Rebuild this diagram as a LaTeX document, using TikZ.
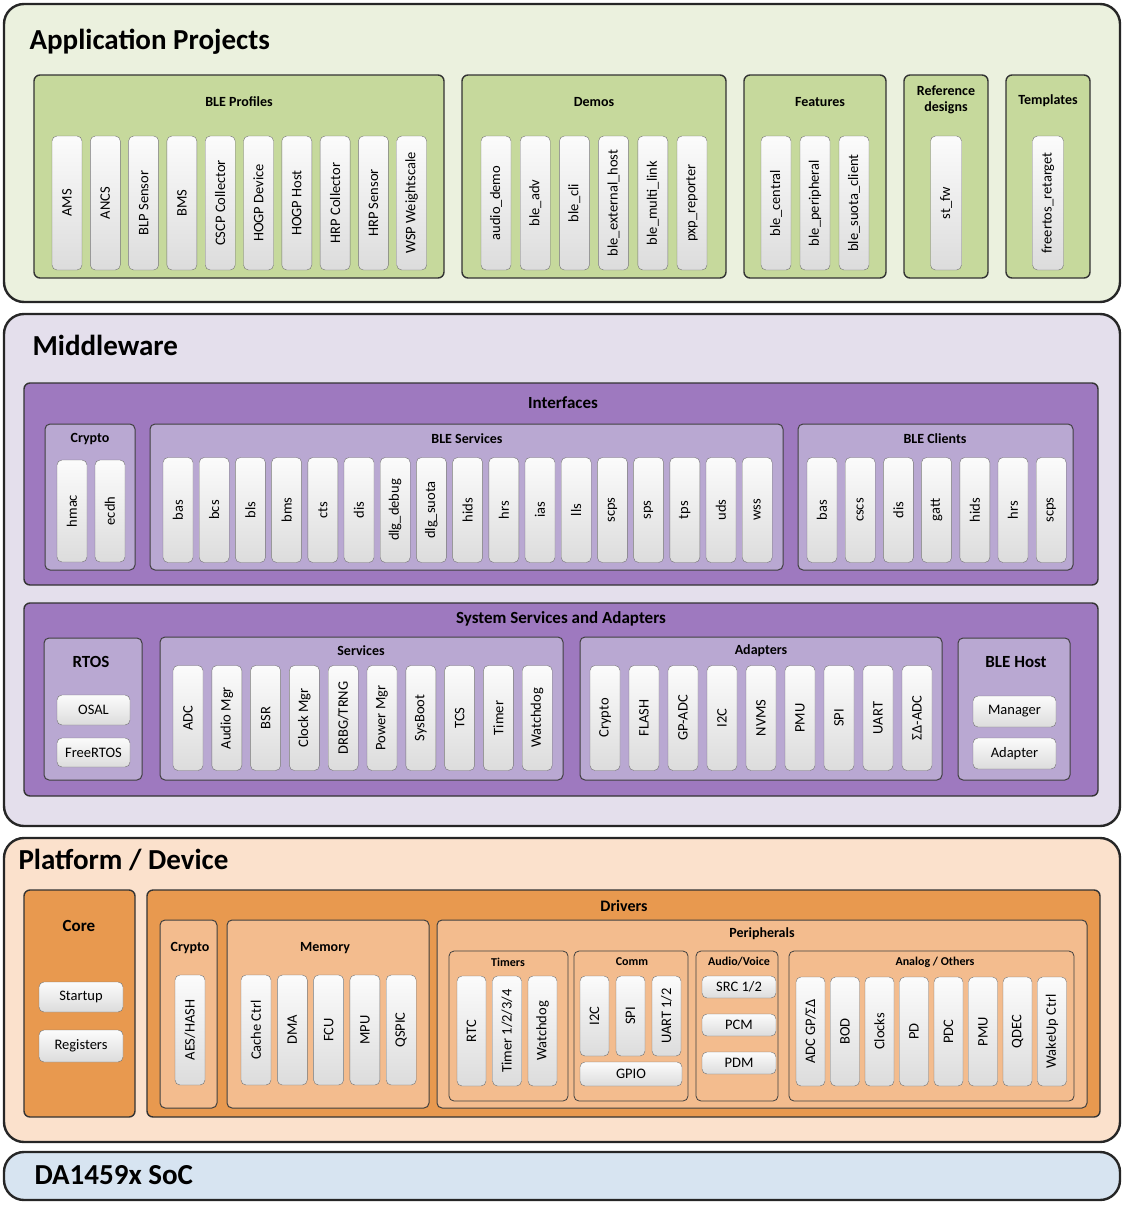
\documentclass[tikz,border=0pt]{standalone}
\usepackage{fontspec}
\setmainfont{Carlito}
\usetikzlibrary{fit,positioning}
\definecolor{appbg}{HTML}{EBF1DE}
\definecolor{appgrp}{HTML}{C6D99C}
\definecolor{midbg}{HTML}{E4DFEC}
\definecolor{midgrp}{HTML}{9E79BF}
\definecolor{midsub}{HTML}{B9A8D2}
\definecolor{platbg}{HTML}{FBE1CC}
\definecolor{platgrp}{HTML}{E8994F}
\definecolor{platsub}{HTML}{F3BC8E}
\definecolor{socbg}{HTML}{D7E4F1}
\definecolor{barfill}{HTML}{DCDCDC}

% box from two corners, named
\newcommand\bx[4]{\node[#2, fit={(#3)(#4)}, inner sep=0pt] (#1) {};}

\begin{document}
\begin{tikzpicture}[
    x=1pt, y=-1pt,
    font=\fontsize{14.5}{16}\selectfont,
    layer/.style={draw=black!85, line width=2.4pt, rounded corners=20pt},
    grp/.style={draw=black!80, line width=1.4pt, rounded corners=6pt},
    sub/.style={draw=black!75, line width=1pt, rounded corners=5pt},
    bar/.style={draw=black!55, rounded corners=5pt, top color=white!90!barfill, bottom color=barfill, inner sep=0pt},
    ttl/.style={font=\fontsize{14}{16}\selectfont\bfseries},
    sttl/.style={font=\fontsize{12}{13}\selectfont\bfseries},
    big/.style={font=\fontsize{29}{32}\selectfont\bfseries, anchor=west}
]
\useasboundingbox (0,0) rectangle (1125,1210);

% Application Projects
\bx{app}{layer, fill=appbg}{4,4}{1120,302}
\node[big] (apptitle) at (26,42) {Application Projects};
\bx{prof}{grp, fill=appgrp}{34,75}{444,278}
\node[ttl] (proft) at (239,102) {BLE Profiles};
\foreach \t [count=\i from 0] in {AMS,ANCS,BLP Sensor,BMS,CSCP Collector,HOGP Device,HOGP Host,HRP Collector,HRP Sensor,WSP Weightscale}
  \node[bar, rotate=90, minimum width=134pt, minimum height=30pt] (prof\i) at (67+\i*38.3,203) {\t};
\bx{demo}{grp, fill=appgrp}{462,75}{726,278}
\node[ttl] (demot) at (594,102) {Demos};
\foreach \t [count=\i from 0] in {audio\_demo,ble\_adv,ble\_cli,ble\_external\_host,ble\_multi\_link,pxp\_reporter}
  \node[bar, rotate=90, minimum width=134pt, minimum height=30pt] (demo\i) at (496+\i*39.2,203) {\t};
\bx{feat}{grp, fill=appgrp}{744,75}{886,278}
\node[ttl] (featt) at (820,102) {Features};
\foreach \t [count=\i from 0] in {ble\_central,ble\_peripheral,ble\_suota\_client}
  \node[bar, rotate=90, minimum width=134pt, minimum height=30pt] (feat\i) at (776+\i*39,203) {\t};
\bx{refd}{grp, fill=appgrp}{904,75}{988,278}
\node[ttl, align=center] (refdt) at (946,100) {Reference\\designs};
\node[bar, rotate=90, minimum width=134pt, minimum height=31pt] (refd0) at (946,203) {st\_fw};
\bx{tmpl}{grp, fill=appgrp}{1006,75}{1090,278}
\node[ttl] (tmplt) at (1048,101) {Templates};
\node[bar, rotate=90, minimum width=134pt, minimum height=31pt] (tmpl0) at (1048,203) {freertos\_retarget};

% Middleware
\bx{mid}{layer, fill=midbg}{4,314}{1120,826}
\node[big] (midtitle) at (29,345) {Middleware};
\bx{intf}{grp, fill=midgrp}{24,383}{1098,585}
\node[font=\fontsize{17}{18}\selectfont\bfseries] (intft) at (563,403) {Interfaces};
\bx{cry}{sub, fill=midsub}{45,424}{135,570}
\node[ttl] (cryt) at (90,439) {Crypto};
\foreach \t [count=\i from 0] in {hmac,ecdh}
  \node[bar, rotate=90, minimum width=102pt, minimum height=30pt] (cry\i) at (72+\i*38,511) {\t};
\bx{svc}{sub, fill=midsub}{150,424}{783,570}
\node[ttl] (svct) at (467,439) {BLE Services};
\foreach \t [count=\i from 0] in {bas,bcs,bls,bms,cts,dis,dlg\_debug,dlg\_suota,hids,hrs,ias,lls,scps,sps,tps,uds,wss}
  \node[bar, rotate=90, minimum width=105pt, minimum height=30pt] (svc\i) at (178+\i*36.2,510) {\t};
\bx{cli}{sub, fill=midsub}{798,424}{1073,570}
\node[ttl] (clit) at (935,439) {BLE Clients};
\foreach \t [count=\i from 0] in {bas,cscs,dis,gatt,hids,hrs,scps}
  \node[bar, rotate=90, minimum width=105pt, minimum height=30pt] (cli\i) at (822+\i*38.2,510) {\t};

\bx{sys}{grp, fill=midgrp}{24,603}{1098,796}
\node[font=\fontsize{17}{18}\selectfont\bfseries] (syst) at (561,619) {System Services and Adapters};
\bx{rtos}{sub, fill=midsub}{44,638}{142,780}
\node[font=\fontsize{17}{18}\selectfont\bfseries] (rtost) at (91,662) {RTOS};
\bx{osal}{bar}{57,695}{130,725}
\node (osalt) at (osal) {OSAL};
\bx{frtos}{bar}{57,738}{130,767}
\node (frtost) at (frtos) {FreeRTOS};
\bx{ssvc}{sub, fill=midsub}{160,637}{563,780}
\node[ttl] (ssvct) at (361,651) {Services};
\foreach \t [count=\i from 0] in {ADC,Audio Mgr,BSR,Clock Mgr,DRBG/TRNG,Power Mgr,SysBoot,TCS,Timer,Watchdog}
  \node[bar, rotate=90, minimum width=105pt, minimum height=30pt] (ssvc\i) at (188+\i*38.8,718) {\t};
\bx{adp}{sub, fill=midsub}{580,637}{942,780}
\node[ttl] (adpt) at (761,651) {Adapters};
\foreach \t [count=\i from 0] in {Crypto,FLASH,GP-ADC,I2C,NVMS,PMU,SPI,UART,ΣΔ-ADC}
  \node[bar, rotate=90, minimum width=105pt, minimum height=30pt] (adp\i) at (605+\i*39,718) {\t};
\bx{host}{sub, fill=midsub}{958,638}{1070,780}
\node[font=\fontsize{17}{18}\selectfont\bfseries] (hostt) at (1016,662) {BLE Host};
\bx{mgr}{bar}{973,696}{1056,727}
\node (mgrt) at (mgr) {Manager};
\bx{hadp}{bar}{973,738}{1056,769}
\node (hadpt) at (hadp) {Adapter};

% Platform / Device
\bx{plat}{layer, fill=platbg}{4,838}{1120,1142}
\node[big] (plattitle) at (15,860) {Platform / Device};
\bx{core}{grp, fill=platgrp}{24,890}{135,1117}
\node[font=\fontsize{17}{18}\selectfont\bfseries] (coret) at (79,926) {Core};
\bx{start}{bar}{39,982}{123,1012}
\node (startt) at (start) {Startup};
\bx{regs}{bar}{39,1030}{123,1062}
\node (regst) at (regs) {Registers};
\bx{drv}{grp, fill=platgrp}{147,890}{1100,1117}
\node[font=\fontsize{16}{17}\selectfont\bfseries] (drvt) at (624,906) {Drivers};
\bx{pcry}{sub, fill=platsub}{160,920}{217,1108}
\node[ttl] (pcryt) at (190,948) {Crypto};
\node[bar, rotate=90, minimum width=110pt, minimum height=30pt] (pcry0) at (190,1030) {AES/HASH};
\bx{mem}{sub, fill=platsub}{227,920}{429,1108}
\node[ttl] (memt) at (325,948) {Memory};
\foreach \t [count=\i from 0] in {Cache Ctrl,DMA,FCU,MPU,QSPIC}
  \node[bar, rotate=90, minimum width=110pt, minimum height=30pt] (mem\i) at (256+\i*36.3,1030) {\t};
\bx{peri}{sub, fill=platsub}{437,920}{1087,1108}
\node[ttl] (perit) at (762,934) {Peripherals};
\bx{tmr}{sub, line width=0.8pt, fill=platsub}{449,951}{568,1101}
\node[sttl] (tmrt) at (508,962) {Timers};
\foreach \t [count=\i from 0] in {RTC,Timer 1/2/3/4,Watchdog}
  \node[bar, rotate=90, minimum width=110pt, minimum height=29pt] (tmr\i) at (471.5+\i*35.5,1031) {\t};
\bx{comm}{sub, line width=0.8pt, fill=platsub}{574,951}{688,1101}
\node[sttl] (commt) at (632,962) {Comm};
\foreach \t [count=\i from 0] in {I2C,SPI,UART 1/2}
  \node[bar, rotate=90, minimum width=80pt, minimum height=29pt] (comm\i) at (594.5+\i*36,1016) {\t};
\bx{gpio}{bar}{580,1062}{682,1086}
\node (gpiot) at (gpio) {GPIO};
\bx{aud}{sub, line width=0.8pt, fill=platsub}{696,951}{778,1101}
\node[sttl] (audt) at (739,962) {Audio/Voice};
\foreach \t [count=\i from 0] in {SRC 1/2,PCM,PDM}
  \node[bar, minimum width=74pt, minimum height=22pt] (aud\i) at (739,987+\i*38) {\t};
\bx{ana}{sub, line width=0.8pt, fill=platsub}{789,951}{1074,1101}
\node[sttl] (anat) at (935,962) {Analog / Others};
\foreach \t [count=\i from 0] in {ADC GP/ΣΔ,BOD,Clocks,PD,PDC,PMU,QDEC,WakeUp Ctrl}
  \node[bar, rotate=90, minimum width=109pt, minimum height=29pt] (ana\i) at (810.5+\i*34.5,1031.5) {\t};

% SoC
\bx{soc}{layer, fill=socbg}{4,1152}{1120,1200}
\node[big] (soctitle) at (31,1175) {DA1459x SoC};
\end{tikzpicture}
\end{document}
